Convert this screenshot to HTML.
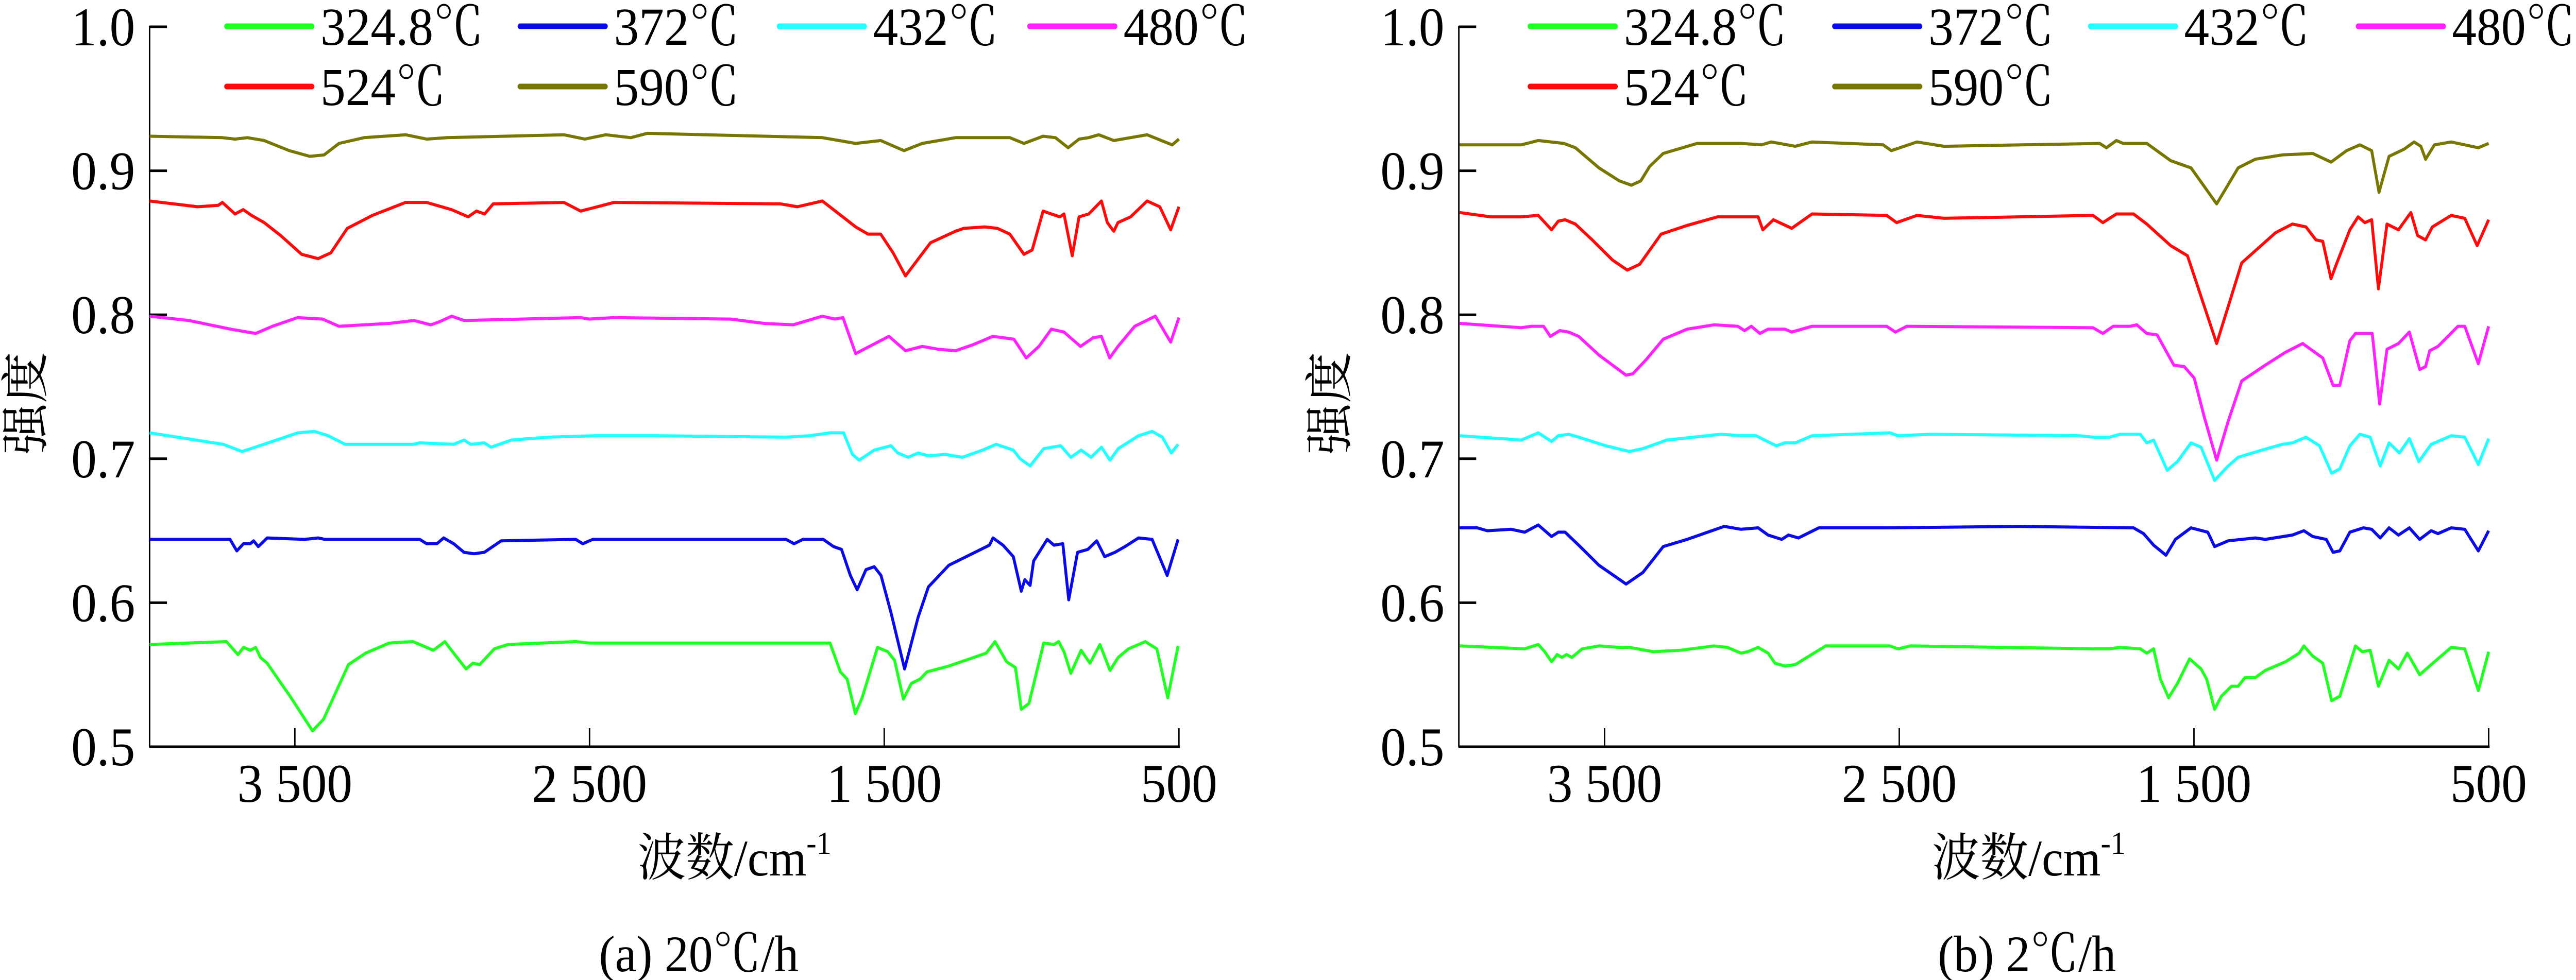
<!DOCTYPE html>
<html><head><meta charset="utf-8"><style>
html,body{margin:0;padding:0;background:#fff;width:100%;height:100%;overflow:hidden;}
svg{display:block;width:100%;height:100%;}
text{font-family:"Liberation Serif","Noto Serif CJK SC","Noto Sans CJK SC",serif;fill:#000;}
</style></head><body>
<svg id="fig" xmlns="http://www.w3.org/2000/svg" viewBox="0 0 5338 1903" preserveAspectRatio="none" overflow="hidden"></svg>
<script>
const yTicks = [0.5, 0.6, 0.7, 0.8, 0.9, 1.0];
const yTickLabels = ["0.5", "0.6", "0.7", "0.8", "0.9", "1.0"];
const xTicks = [3500, 2500, 1500, 500];
const xTickLabels = ["3 500", "2 500", "1 500", "500"];
const seriesNames = ["324.8℃", "372℃", "432℃", "480℃", "524℃", "590℃"];
const seriesColors = ["#22ff22", "#0a0ae8", "#22ffff", "#ff22ff", "#ff0a0a", "#777700"];

const a590 = [[4000,.924],[3746,.923],[3703,.922],[3661,.923],[3604,.921],[3519,.914],[3449,.910],[3401,.911],[3350,.919],[3265,.923],[3124,.925],[3053,.922],[2982,.923],[2587,.925],[2516,.922],[2445,.925],[2360,.923],[2304,.926],[1710,.923],[1597,.919],[1512,.921],[1433,.914],[1371,.919],[1258,.923],[1074,.923],[1026,.919],[961,.924],[919,.923],[876,.916],[839,.922],[806,.923],[772,.925],[721,.921],[608,.925],[523,.918],[500,.922]];
const a524 = [[4000,.879],[3830,.875],[3760,.876],[3746,.878],[3703,.870],[3675,.873],[3647,.869],[3604,.864],[3548,.855],[3477,.842],[3421,.839],[3378,.843],[3322,.860],[3237,.869],[3124,.878],[3053,.878],[2968,.873],[2912,.868],[2884,.872],[2856,.870],[2827,.877],[2587,.878],[2530,.872],[2417,.878],[1852,.877],[1795,.875],[1710,.879],[1597,.861],[1555,.856],[1512,.856],[1470,.843],[1428,.827],[1343,.850],[1258,.858],[1230,.860],[1159,.861],[1116,.860],[1074,.856],[1026,.842],[998,.845],[961,.872],[933,.870],[904,.868],[890,.870],[862,.841],[839,.868],[806,.870],[763,.879],[743,.864],[721,.858],[707,.864],[664,.868],[608,.879],[565,.875],[528,.859],[500,.875]];
const a480 = [[4000,.799],[3859,.796],[3718,.790],[3633,.787],[3576,.792],[3491,.798],[3406,.797],[3350,.792],[3180,.794],[3095,.796],[3039,.793],[3011,.795],[2968,.799],[2926,.796],[2530,.798],[2502,.797],[2417,.798],[2021,.797],[1908,.794],[1809,.793],[1710,.799],[1668,.797],[1640,.798],[1597,.773],[1569,.776],[1484,.785],[1428,.775],[1371,.778],[1315,.776],[1258,.775],[1201,.779],[1131,.785],[1060,.783],[1018,.770],[975,.778],[933,.790],[890,.788],[834,.778],[791,.784],[763,.785],[735,.770],[707,.778],[650,.792],[580,.799],[528,.781],[500,.798]];
const a432 = [[4001,.718],[3743,.710],[3679,.705],[3605,.710],[3490,.718],[3433,.719],[3387,.716],[3329,.710],[3099,.710],[3076,.711],[2961,.710],[2926,.713],[2903,.710],[2857,.711],[2834,.708],[2765,.713],[2639,.715],[2477,.716],[2270,.716],[1833,.715],[1753,.716],[1684,.718],[1638,.718],[1608,.703],[1585,.699],[1534,.706],[1477,.709],[1454,.704],[1419,.701],[1385,.704],[1350,.702],[1293,.703],[1235,.701],[1166,.706],[1120,.710],[1062,.706],[1039,.700],[1005,.695],[959,.707],[901,.709],[867,.701],[832,.706],[798,.701],[763,.708],[734,.699],[706,.707],[637,.716],[591,.719],[556,.715],[526,.704],[503,.710]];
const a372 = [[4001,.644],[3720,.644],[3697,.636],[3674,.641],[3651,.641],[3640,.643],[3624,.639],[3594,.645],[3467,.644],[3421,.645],[3398,.644],[3076,.644],[3053,.641],[3018,.641],[2995,.645],[2961,.641],[2926,.635],[2892,.634],[2857,.635],[2800,.643],[2547,.644],[2523,.641],[2489,.644],[1833,.644],[1806,.641],[1776,.644],[1707,.644],[1672,.639],[1645,.637],[1615,.619],[1592,.609],[1562,.623],[1534,.625],[1511,.619],[1477,.593],[1431,.554],[1385,.590],[1350,.611],[1281,.626],[1143,.640],[1131,.645],[1097,.640],[1062,.632],[1035,.608],[1023,.616],[1005,.612],[993,.629],[947,.644],[924,.640],[894,.641],[874,.602],[844,.635],[809,.637],[779,.643],[752,.632],[717,.635],[683,.639],[637,.645],[591,.644],[540,.619],[503,.644]];
const a325 = [[4001,.571],[3732,.573],[3693,.564],[3674,.569],[3651,.567],[3633,.569],[3617,.562],[3594,.558],[3513,.534],[3440,.511],[3403,.519],[3318,.557],[3260,.565],[3180,.572],[3099,.573],[3030,.567],[2991,.573],[2961,.565],[2919,.554],[2896,.558],[2873,.557],[2823,.568],[2777,.571],[2547,.573],[2501,.572],[2409,.572],[1684,.572],[1649,.552],[1626,.547],[1598,.523],[1575,.534],[1523,.569],[1488,.566],[1465,.560],[1435,.533],[1408,.544],[1378,.547],[1355,.552],[1281,.556],[1224,.560],[1154,.565],[1124,.573],[1085,.559],[1055,.555],[1035,.526],[1009,.530],[959,.572],[924,.571],[908,.573],[890,.566],[867,.551],[832,.567],[802,.558],[768,.571],[734,.553],[706,.562],[671,.568],[614,.573],[575,.568],[538,.534],[503,.570]];

const b590 = [[3992,.918],[3783,.918],[3725,.921],[3638,.919],[3599,.916],[3519,.902],[3450,.893],[3409,.890],[3377,.893],[3347,.903],[3301,.912],[3186,.919],[3037,.919],[2968,.918],[2934,.920],[2853,.917],[2796,.920],[2555,.918],[2527,.914],[2440,.920],[2348,.917],[1820,.919],[1797,.916],[1763,.921],[1740,.919],[1660,.919],[1579,.907],[1510,.902],[1423,.877],[1350,.902],[1292,.908],[1200,.911],[1097,.912],[1035,.906],[982,.914],[937,.918],[897,.914],[872,.885],[838,.910],[787,.915],[753,.920],[730,.917],[714,.908],[684,.918],[627,.920],[581,.918],[535,.916],[500,.919]];
const b524 = [[3992,.871],[3886,.868],[3783,.868],[3725,.869],[3680,.859],[3657,.865],[3634,.866],[3599,.863],[3542,.852],[3473,.838],[3423,.831],[3381,.835],[3308,.856],[3220,.862],[3117,.868],[2979,.868],[2963,.859],[2927,.866],[2865,.860],[2796,.870],[2543,.869],[2509,.864],[2440,.869],[2348,.867],[1843,.869],[1809,.864],[1763,.870],[1705,.870],[1660,.863],[1579,.848],[1522,.841],[1423,.780],[1338,.836],[1223,.857],[1166,.863],[1120,.861],[1086,.852],[1063,.851],[1035,.825],[1017,.835],[971,.859],[943,.868],[920,.864],[897,.866],[874,.818],[845,.863],[806,.859],[764,.871],[741,.855],[714,.852],[691,.861],[627,.869],[581,.867],[539,.848],[500,.866]];
const b480 = [[3992,.794],[3783,.791],[3748,.792],[3707,.792],[3684,.785],[3652,.789],[3622,.788],[3588,.785],[3519,.772],[3427,.758],[3404,.759],[3358,.769],[3301,.783],[3220,.790],[3129,.793],[3048,.792],[3025,.789],[3002,.792],[2973,.787],[2945,.790],[2888,.790],[2865,.788],[2796,.792],[2543,.792],[2513,.788],[2474,.792],[1843,.791],[1809,.787],[1774,.792],[1717,.792],[1694,.793],[1660,.787],[1625,.786],[1568,.765],[1533,.764],[1499,.756],[1465,.729],[1423,.699],[1384,.726],[1338,.754],[1258,.765],[1189,.774],[1131,.780],[1063,.770],[1028,.751],[1005,.751],[971,.782],[952,.787],[925,.787],[895,.787],[870,.738],[845,.776],[806,.780],[769,.788],[734,.762],[714,.764],[700,.775],[672,.778],[604,.792],[581,.792],[535,.766],[500,.792]];
const b432 = [[3992,.716],[3783,.713],[3725,.718],[3680,.712],[3657,.716],[3622,.717],[3588,.715],[3496,.709],[3416,.705],[3370,.707],[3289,.713],[3106,.717],[3037,.716],[2986,.716],[2957,.713],[2917,.709],[2888,.711],[2853,.711],[2796,.716],[2532,.718],[2504,.716],[2394,.717],[1889,.716],[1843,.715],[1786,.715],[1751,.717],[1682,.717],[1660,.711],[1637,.713],[1591,.692],[1556,.698],[1510,.711],[1476,.708],[1430,.685],[1384,.695],[1350,.701],[1269,.706],[1200,.710],[1166,.711],[1120,.715],[1074,.709],[1033,.690],[1005,.693],[971,.709],[937,.717],[902,.715],[868,.695],[838,.711],[803,.704],[769,.714],[737,.698],[695,.710],[627,.716],[581,.715],[535,.696],[500,.714]];
const b372 = [[3992,.652],[3932,.652],[3898,.650],[3817,.651],[3771,.649],[3725,.654],[3680,.646],[3657,.649],[3634,.649],[3588,.640],[3519,.626],[3427,.613],[3370,.621],[3301,.639],[3220,.644],[3094,.653],[3037,.651],[2979,.652],[2945,.647],[2899,.644],[2876,.647],[2842,.645],[2773,.652],[2555,.652],[2096,.653],[1705,.652],[1671,.648],[1637,.640],[1595,.633],[1563,.644],[1510,.652],[1453,.649],[1430,.639],[1384,.643],[1292,.645],[1258,.644],[1166,.647],[1127,.650],[1097,.646],[1051,.644],[1028,.635],[1005,.636],[971,.649],[925,.652],[897,.651],[868,.645],[838,.652],[806,.647],[769,.652],[734,.644],[695,.650],[672,.648],[627,.652],[581,.651],[535,.636],[500,.650]];
const b325 = [[3992,.570],[3771,.568],[3725,.571],[3703,.566],[3680,.559],[3661,.564],[3645,.562],[3629,.564],[3611,.562],[3576,.568],[3519,.570],[3450,.569],[3416,.569],[3335,.566],[3243,.567],[3129,.570],[3083,.569],[3037,.565],[3014,.566],[2979,.569],[2945,.565],[2922,.558],[2888,.556],[2853,.557],[2750,.570],[2532,.570],[2504,.568],[2463,.570],[1843,.568],[1786,.568],[1751,.569],[1682,.568],[1660,.565],[1637,.568],[1614,.547],[1586,.534],[1556,.544],[1515,.561],[1476,.554],[1457,.547],[1430,.526],[1407,.535],[1373,.542],[1350,.542],[1327,.548],[1292,.548],[1258,.553],[1189,.559],[1143,.565],[1127,.570],[1097,.563],[1063,.558],[1033,.532],[1005,.535],[952,.570],[929,.566],[902,.567],[874,.542],[838,.560],[806,.554],[776,.565],[734,.550],[695,.557],[627,.569],[581,.568],[535,.539],[500,.566]];

const panelA = [a325, a372, a432, a480, a524, a590];
const panelB = [b325, b372, b432, b480, b524, b590];

const NS = "http://www.w3.org/2000/svg";
const svg = document.getElementById("fig");
function mk(tag, attrs, parent) {
  const e = document.createElementNS(NS, tag);
  for (const k in attrs) e.setAttribute(k, attrs[k]);
  (parent || svg).appendChild(e);
  return e;
}
const Y0 = 1450, Y1 = 52;
function yScale(v) { return Y0 - (v - 0.5) / 0.5 * (Y0 - Y1); }

function drawPanel(id, axX, x3500, x500, data, legendOffsets, yTitleX, xTitleX, capX, caption) {
  const g = mk("g", {});
  
  
  const k = (x500 - x3500) / 3000;
  const xs = w => Math.max(axX, x3500 + (3500 - w) * k);
  const ya = mk("line", {x1: axX, y1: Y1 - 2, x2: axX, y2: Y0, stroke: "#000", "stroke-width": 3}, g);
  
  
  const xa = mk("line", {x1: axX - 1, y1: Y0, x2: x500 + 2, y2: Y0, stroke: "#000", "stroke-width": 5}, g);
  
  
  yTicks.forEach((v, i) => {
    const yy = yScale(v);
    const t = mk("line", {x1: axX, y1: yy, x2: axX + 36, y2: yy, stroke: "#000", "stroke-width": 5}, g);
    
    
    const l = mk("text", {x: axX - 30, y: yy + 36, "text-anchor": "end", "font-size": 106}, g);
    l.textContent = yTickLabels[i];
    
    
  });
  xTicks.forEach((w, i) => {
    const xx = xs(w);
    const t = mk("line", {x1: xx, y1: Y0, x2: xx, y2: Y0 - 36, stroke: "#000", "stroke-width": 3}, g);
    
    
    const l = mk("text", {x: xx, y: 1557, "text-anchor": "middle", "font-size": 106}, g);
    l.textContent = xTickLabels[i];
    
    
  });
  data.forEach((s, i) => {
    const pts = s.map(p => xs(p[0]).toFixed(1) + "," + yScale(p[1]).toFixed(1)).join(" ");
    const pl = mk("polyline", {points: pts, fill: "none", stroke: seriesColors[i], "stroke-width": 6, "stroke-linejoin": "round"}, g);
    
    
  });
  [0, 1, 2, 3, 4, 5].forEach(i => {
    const row = i < 4 ? 0 : 1;
    const col = i < 4 ? i : i - 4;
    const lx = axX + legendOffsets[col];
    const ly = row === 0 ? 51 : 168;
    const lg = mk("g", {}, g);
    
    
    mk("line", {x1: lx, y1: ly, x2: lx + 176, y2: ly, stroke: seriesColors[i], "stroke-width": 11, "stroke-linecap": "round"}, lg);
    const tx = mk("text", {x: lx + 194, y: ly + 36, "font-size": 104}, lg);
    tx.textContent = seriesNames[i];
    const room = 5336 - (lx + 194);
    if (room < 330) {
      tx.setAttribute("textLength", Math.max(room, 200));
      tx.setAttribute("lengthAdjust", "spacingAndGlyphs");
    }
  });
  const yt = mk("text", {x: yTitleX, y: 783, "text-anchor": "middle", "font-size": 100, transform: "rotate(-90 " + yTitleX + " 783)"}, g);
  yt.textContent = "强度";
  
  
  const xt = mk("text", {x: xTitleX, y: 1700, "text-anchor": "middle", "font-size": 100}, g);
  
  
  xt.appendChild(document.createTextNode("波数/cm"));
  const sup = mk("tspan", {"font-size": 62, dy: -42}, xt);
  sup.textContent = "-1";
  const cp = mk("text", {x: capX, y: 1886, "text-anchor": "middle", "font-size": 100}, g);
  cp.textContent = caption;
  
  
}

drawPanel("panel-a", 310, 611, 2443, panelA, [160, 768, 1305, 1824], 88, 1522, 1448, "(a)  20℃/h");
drawPanel("panel-b", 3023, 3325, 5157, panelB, [148, 779, 1309, 1864], 2790, 4204, 4200, "(b)  2℃/h");
</script>
</body></html>
